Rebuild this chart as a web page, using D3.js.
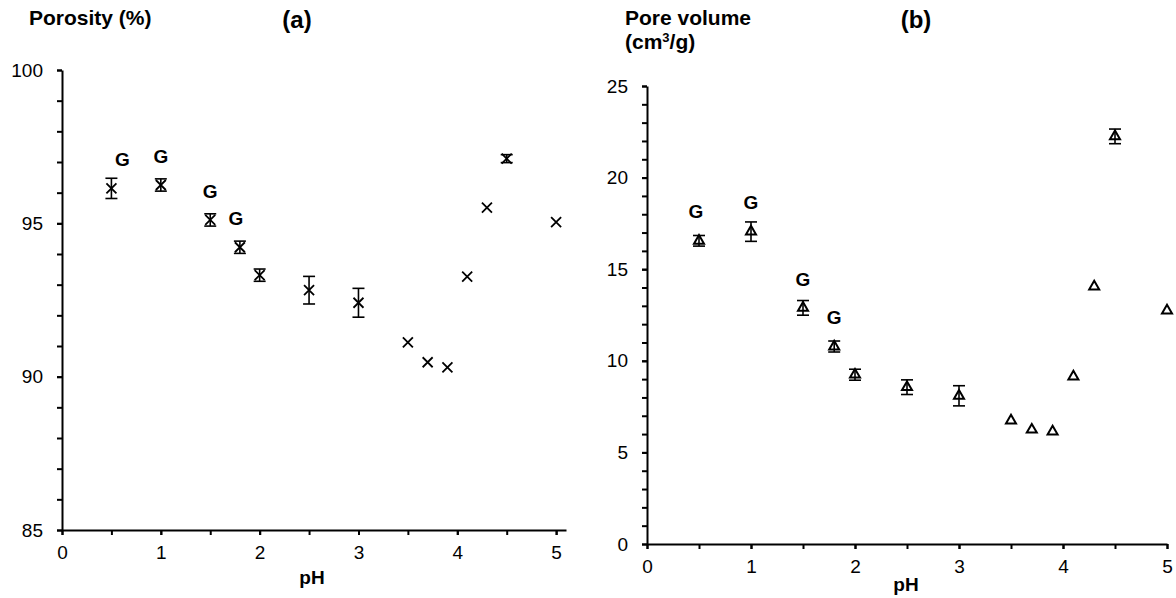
<!DOCTYPE html>
<html>
<head>
<meta charset="utf-8">
<script src="https://cdn.jsdelivr.net/npm/d3@7"></script>
<style>
    body { margin: 0; background: #fff; }
    svg { display: block; font-family: Arial, "Liberation Sans", sans-serif; }
    .tick text { font-size: 19px; fill: #000; }
    .domain, .tick line { stroke: #000; stroke-width: 2; }
    .title { font-size: 21px; font-weight: bold; }
    .tag { font-size: 24px; font-weight: bold; }
    .gel { font-size: 19px; font-weight: bold; }
    .xlabel { font-size: 19px; font-weight: bold; }
</style>
</head>
<body>
<svg id="chart" width="1176" height="598"></svg>
<script>
// pH of each sample, shared by both panels
const phValues = [0.5, 1, 1.5, 1.8, 2, 2.5, 3, 3.5, 3.7, 3.9, 4.1, 4.3, 4.5, 5];

// (a) porosity, %
const porosity    = [96.14, 96.25, 95.11, 94.22, 93.31, 92.82, 92.41, 91.12, 90.47, 90.30, 93.26, 95.51, 97.11, 95.04];
const porosityErr = [0.33, 0.2, 0.2, 0.2, 0.2, 0.45, 0.47, 0, 0, 0, 0, 0, 0.13, 0];

// (b) pore volume, cm3/g
const poreVolume    = [16.55, 17.05, 12.89, 10.78, 9.24, 8.56, 8.09, 6.74, 6.24, 6.14, 9.14, 14.05, 22.25, 12.74];
const poreVolumeErr = [0.29, 0.53, 0.4, 0.3, 0.3, 0.4, 0.55, 0, 0, 0, 0, 0, 0.4, 0];

// samples marked "G" (gel)
const gelPh = [0.5, 1, 1.5, 1.8];

const xTicks = [0, 1, 2, 3, 4, 5];
const porosityTicks = [85, 90, 95, 100];
const poreVolumeTicks = [0, 5, 10, 15, 20, 25];

class Panel {
    constructor(_svg, _config) {
        this.svg = _svg;
        this.config = _config;
        this.initVis();
    }

    initVis() {
        let vis = this;
        let c = vis.config;

        vis.x = d3.scaleLinear().domain(c.xDomain).range([c.left, c.right]);
        vis.y = d3.scaleLinear().domain(c.yDomain).range([c.bottom, c.top]);

        vis.g = vis.svg.append('g');

        // minor ticks first, so the major ones sit on top
        vis.g.append('g')
            .attr('transform', `translate(0,${c.bottom})`)
            .call(d3.axisBottom(vis.x).tickValues(d3.range(0, 5.01, 0.5)).tickSize(5).tickFormat(''))
            .call(g => g.select('.domain').remove());
        vis.g.append('g')
            .attr('transform', `translate(${c.left},0)`)
            .call(d3.axisLeft(vis.y).tickValues(d3.range(c.yDomain[0], c.yDomain[1] + 0.01, 1)).tickSize(5).tickFormat(''))
            .call(g => g.select('.domain').remove());

        vis.g.append('g')
            .attr('transform', `translate(0,${c.bottom})`)
            .call(d3.axisBottom(vis.x).tickValues(xTicks).tickFormat(d3.format('d')).tickSize(5).tickPadding(11).tickSizeOuter(0));
        vis.g.append('g')
            .attr('transform', `translate(${c.left},0)`)
            .call(d3.axisLeft(vis.y).tickValues(c.yTicks).tickFormat(d3.format('d')).tickSize(5).tickPadding(14).tickSizeOuter(0));

        vis.g.append('text')
            .attr('class', 'xlabel')
            .attr('x', c.xLabelX)
            .attr('y', c.xLabelY)
            .attr('text-anchor', 'middle')
            .text('pH');

        c.titleLines.forEach((t, i) => {
            vis.g.append('text')
                .attr('class', 'title')
                .attr('x', c.titleX)
                .attr('y', c.titleY + i * 24)
                .html(t);
        });
        vis.g.append('text')
            .attr('class', 'tag')
            .attr('x', c.tagX)
            .attr('y', c.tagY)
            .attr('text-anchor', 'middle')
            .text(c.tag);

        vis.renderVis();
    }

    renderVis() {
        let vis = this;
        let c = vis.config;
        let data = phValues.map((ph, i) => ({ ph: ph, v: c.values[i], err: c.errors[i] }));

        const bars = vis.g.append('g')
            .selectAll('g')
            .data(data.filter(d => d.err > 0))
            .join('g')
            .attr('stroke', '#000')
            .attr('stroke-width', 1.6);
        bars.append('line')
            .attr('x1', d => vis.x(d.ph)).attr('x2', d => vis.x(d.ph))
            .attr('y1', d => vis.y(d.v - d.err)).attr('y2', d => vis.y(d.v + d.err));
        [-1, 1].forEach(s => {
            bars.append('line')
                .attr('x1', d => vis.x(d.ph) - 6).attr('x2', d => vis.x(d.ph) + 6)
                .attr('y1', d => vis.y(d.v + s * d.err)).attr('y2', d => vis.y(d.v + s * d.err));
        });

        vis.g.append('g')
            .selectAll('path')
            .data(data)
            .join('path')
            .attr('transform', d => `translate(${vis.x(d.ph)},${vis.y(d.v)})`)
            .attr('d', d3.symbol().type(c.symbol).size(c.symbolSize))
            .attr('fill', 'none')
            .attr('stroke', '#000')
            .attr('stroke-width', c.symbolStroke);

        vis.g.append('g')
            .selectAll('text')
            .data(data.filter(d => gelPh.includes(d.ph)))
            .join('text')
            .attr('class', 'gel')
            .attr('text-anchor', 'middle')
            .attr('x', (d, i) => vis.x(d.ph) + c.gelDx[i])
            .attr('y', d => vis.y(d.v) - 29)
            .attr('dy', '0.35em')
            .text('G');
    }
}

const svg = d3.select('#chart');

new Panel(svg, {
    left: 62, right: 566, top: 70, bottom: 530,
    xDomain: [0, 5.1], yDomain: [85, 100], yTicks: porosityTicks,
    values: porosity, errors: porosityErr,
    symbol: d3.symbolTimes, symbolSize: 67, symbolStroke: 1.8,
    gelDx: [11, 0, 0, -4],
    titleLines: ['Porosity (%)'], titleX: 29, titleY: 25,
    tag: '(a)', tagX: 297, tagY: 28,
    xLabelX: 312, xLabelY: 584
});

new Panel(svg, {
    left: 647, right: 1167, top: 86, bottom: 544,
    xDomain: [0, 5], yDomain: [0, 25], yTicks: poreVolumeTicks,
    values: poreVolume, errors: poreVolumeErr,
    symbol: d3.symbolTriangle2, symbolSize: 72, symbolStroke: 2,
    gelDx: [-3, 0, 0, 0],
    titleLines: ['Pore volume', '(cm<tspan dy="-7" font-size="13">3</tspan><tspan dy="7">/g)</tspan>'],
    titleX: 625, titleY: 25,
    tag: '(b)', tagX: 916, tagY: 28,
    xLabelX: 906, xLabelY: 591
});
</script>
</body>
</html>
